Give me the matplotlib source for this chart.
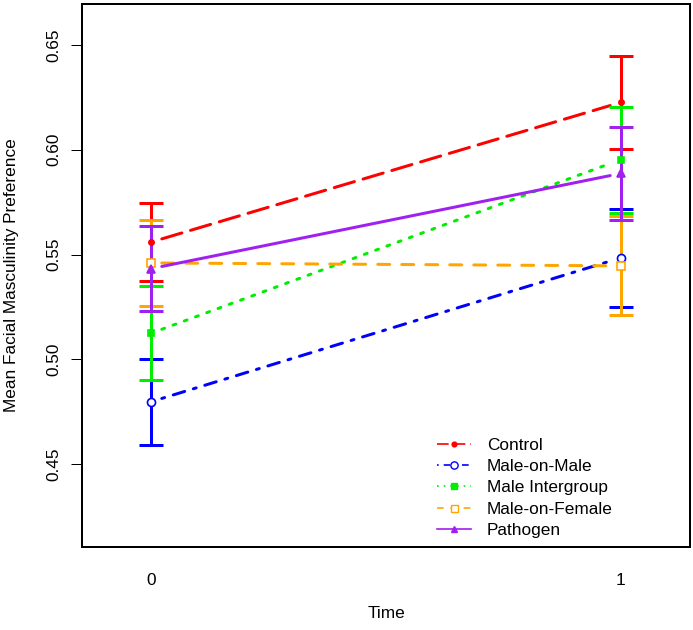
import numpy as np
import matplotlib
matplotlib.use('Agg')
import matplotlib.pyplot as plt
from matplotlib.lines import Line2D

plt.rcParams['font.family'] = ['Liberation Sans', 'DejaVu Sans']

# data
times = [0, 1]
groups = ['Control', 'Male-on-Male', 'Male Intergroup', 'Male-on-Female', 'Pathogen']
means = {
    'Control':         [0.556, 0.6226],
    'Male-on-Male':    [0.4798, 0.5484],
    'Male Intergroup': [0.5125, 0.5953],
    'Male-on-Female':  [0.5460, 0.5446],
    'Pathogen':        [0.5433, 0.5887],
}
errs = {
    'Control':         [0.0185, 0.0222],
    'Male-on-Male':    [0.0205, 0.0233],
    'Male Intergroup': [0.0224, 0.0253],
    'Male-on-Female':  [0.0206, 0.0236],
    'Pathogen':        [0.0204, 0.0221],
}
colors = ['#FF0000', '#0000FF', '#00EE00', '#FFA500', '#A020F0']
dashes = [(7, 3), (1, 3, 4, 3), (1, 3), (4, 4), None]
markers = ['o', 'o', 's', 's', '^']
msizes = [3.8, 5.8, 4.6, 5.6, 5.4]
filled = [True, False, True, False, True]

px = 0.72  # points per pixel at dpi 100

fig = plt.figure(figsize=(6.93, 6.30), dpi=100)
ax = fig.add_axes([82 / 693, 83 / 630, 608 / 693, 543 / 630])

gap = 0.022
for i, g in enumerate(groups):
    m = np.array(means[g])
    e = np.array(errs[g])
    c = colors[i]
    z = 2 + i
    ax.errorbar(times, m, yerr=e, fmt='none', ecolor=c, elinewidth=3 * px,
                capsize=12 * px, capthick=3 * px, zorder=z)
    # connecting line with small gaps round the points
    xs = np.array([times[0] + gap, times[1] - gap])
    ys = np.interp(xs, times, m)
    ln, = ax.plot(xs, ys, color=c, lw=3 * px, zorder=z, solid_capstyle='round',
                  dash_capstyle='round')
    if dashes[i] is not None:
        ln.set_dashes(dashes[i])
    ax.plot(times, m, ls='none', marker=markers[i], ms=msizes[i], mec=c,
            mfc=c if filled[i] else 'white', mew=1.2, zorder=10 + i)

ax.set_xlim(-0.148, 1.148)
ax.set_ylim(0.4104, 0.6696)
ax.set_xticks(times)
ax.set_xticklabels(['0', '1'])
ax.set_yticks([0.45, 0.50, 0.55, 0.60, 0.65])
ax.set_yticklabels(['0.45', '0.50', '0.55', '0.60', '0.65'], rotation=90, va='center')
ax.tick_params(axis='x', length=0, pad=19, labelsize=12.4)
ax.tick_params(axis='y', length=11 * px, width=1 * px, pad=7, labelsize=12.4)
for s in ax.spines.values():
    s.set_linewidth(2 * px)

ax.set_xlabel('Time', fontsize=12.4)
ax.set_ylabel('Mean Facial Masculinity Preference', fontsize=12.4)
ax.xaxis.set_label_coords(0.5, -66 / 543)
ax.yaxis.set_label_coords(-70 / 608, 0.5)
ax.xaxis.label.set_va('center')
ax.yaxis.label.set_va('center')

handles = []
for i, g in enumerate(groups):
    h = Line2D([], [], color=colors[i], lw=1.2, marker=markers[i], ms=msizes[i] * 0.9,
               mec=colors[i], mfc=colors[i] if filled[i] else 'white', mew=1.0)
    if dashes[i] is not None:
        h.set_dashes(dashes[i])
    handles.append(h)
ax.legend(handles, groups, loc='upper left', bbox_to_anchor=(0.584, 0.201),
          frameon=False, fontsize=12.4, handlelength=1.95, handletextpad=0.95,
          labelspacing=0.36, borderpad=0, borderaxespad=0)

fig.savefig('out.png', dpi=100)
